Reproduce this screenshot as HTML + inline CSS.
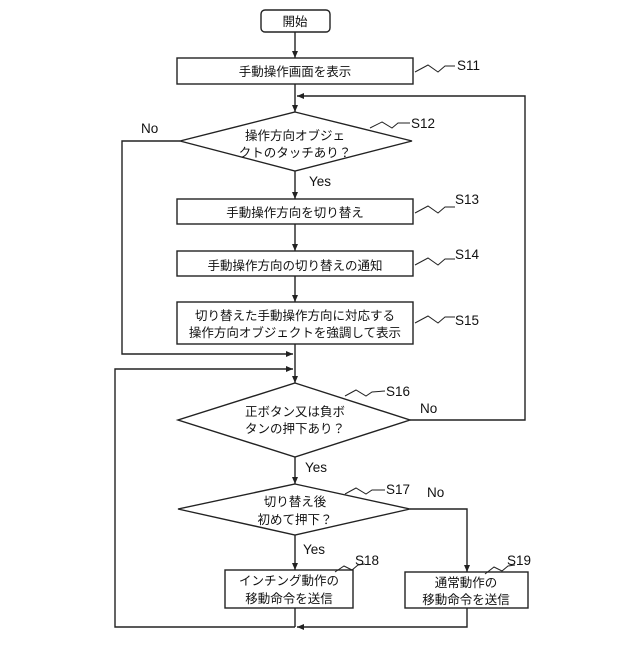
<!DOCTYPE html>
<html><head><meta charset="utf-8"><style>
body{margin:0;background:#fff}
text{font-family:"Liberation Sans","Noto Sans CJK JP",sans-serif;fill:#111}
.j{font-size:12.5px}
.s{font-size:13.5px}
</style></head><body>
<svg width="640" height="640" viewBox="0 0 640 640" xmlns="http://www.w3.org/2000/svg">
<defs><marker id="a" markerWidth="8" markerHeight="8" refX="7" refY="4" orient="auto" markerUnits="userSpaceOnUse"><path d="M0,1 L7,4 L0,7z" fill="#222"/></marker></defs>
<g fill="none" stroke="#222" stroke-width="1.4">
<rect x="261" y="10" width="69" height="22" rx="4" fill="#fff"/>
<rect x="177" y="58" width="236" height="26"/>
<polygon points="295,112 412,141 295,171 180,141"/>
<rect x="177" y="199" width="236" height="25"/>
<rect x="177" y="251" width="236" height="25"/>
<rect x="177" y="302" width="236" height="42"/>
<polygon points="295,383 410,420 295,457 178,420"/>
<polygon points="295,484 410,509 295,535 178,509"/>
<rect x="225" y="570" width="128" height="38"/>
<rect x="405" y="572" width="123" height="36"/>
<line x1="295" y1="32" x2="295" y2="58" marker-end="url(#a)"/>
<line x1="295" y1="84" x2="295" y2="112" marker-end="url(#a)"/>
<polyline points="410,420 525,420 525,96 297,96" marker-end="url(#a)"/>
<line x1="295" y1="171" x2="295" y2="199" marker-end="url(#a)"/>
<line x1="295" y1="224" x2="295" y2="251" marker-end="url(#a)"/>
<line x1="295" y1="276" x2="295" y2="302" marker-end="url(#a)"/>
<line x1="295" y1="344" x2="295" y2="383" marker-end="url(#a)"/>
<polyline points="180,141 122,141 122,354 293,354" marker-end="url(#a)"/>
<polyline points="295,627 115,627 115,369 293,369" marker-end="url(#a)"/>
<line x1="295" y1="457" x2="295" y2="484" marker-end="url(#a)"/>
<line x1="295" y1="535" x2="295" y2="570" marker-end="url(#a)"/>
<polyline points="410,509 467,509 467,572" marker-end="url(#a)"/>
<line x1="295" y1="608" x2="295" y2="627"/>
<polyline points="467,608 467,627 297,627" marker-end="url(#a)"/>
<g stroke-width="1">
<polyline points="415,72 428,65 438,72 445,66 455,66"/>
<polyline points="370,128 382,122 392,128 398,123 410,123"/>
<polyline points="415,213 428,206 438,213 445,207 455,207"/>
<polyline points="415,265 428,258 438,265 445,259 455,259"/>
<polyline points="415,323 428,316 438,323 445,317 455,317"/>
<polyline points="345,396 356,390 366,396 372,392 385,391"/>
<polyline points="345,494 356,488 366,494 372,490 385,490"/>
<polyline points="335,572 344,566 352,570 358,565 365,564"/>
<polyline points="485,574 494,567 502,571 508,566 515,565"/>
</g>
</g>
<g class="j" text-anchor="middle">
<text x="295" y="26">開始</text>
<text x="295" y="76">手動操作画面を表示</text>
<text x="295" y="140">操作方向オブジェ</text>
<text x="295" y="157">クトのタッチあり？</text>
<text x="295" y="217">手動操作方向を切り替え</text>
<text x="295" y="270">手動操作方向の切り替えの通知</text>
<text x="295" y="320">切り替えた手動操作方向に対応する</text>
<text x="295" y="337">操作方向オブジェクトを強調して表示</text>
<text x="295" y="416">正ボタン又は負ボ</text>
<text x="295" y="433">タンの押下あり？</text>
<text x="295" y="506">切り替え後</text>
<text x="295" y="524">初めて押下？</text>
<text x="289" y="585">インチング動作の</text>
<text x="289" y="603">移動命令を送信</text>
<text x="466" y="587">通常動作の</text>
<text x="466" y="604">移動命令を送信</text>
</g>
<g class="s">
<text x="457" y="70">S11</text>
<text x="411" y="128">S12</text>
<text x="455" y="204">S13</text>
<text x="455" y="259">S14</text>
<text x="455" y="325">S15</text>
<text x="386" y="396">S16</text>
<text x="386" y="494">S17</text>
<text x="355" y="565">S18</text>
<text x="507" y="565">S19</text>
<text x="141" y="133">No</text>
<text x="309" y="186">Yes</text>
<text x="420" y="413">No</text>
<text x="305" y="472">Yes</text>
<text x="427" y="497">No</text>
<text x="303" y="554">Yes</text>
</g>
</svg>
</body></html>
